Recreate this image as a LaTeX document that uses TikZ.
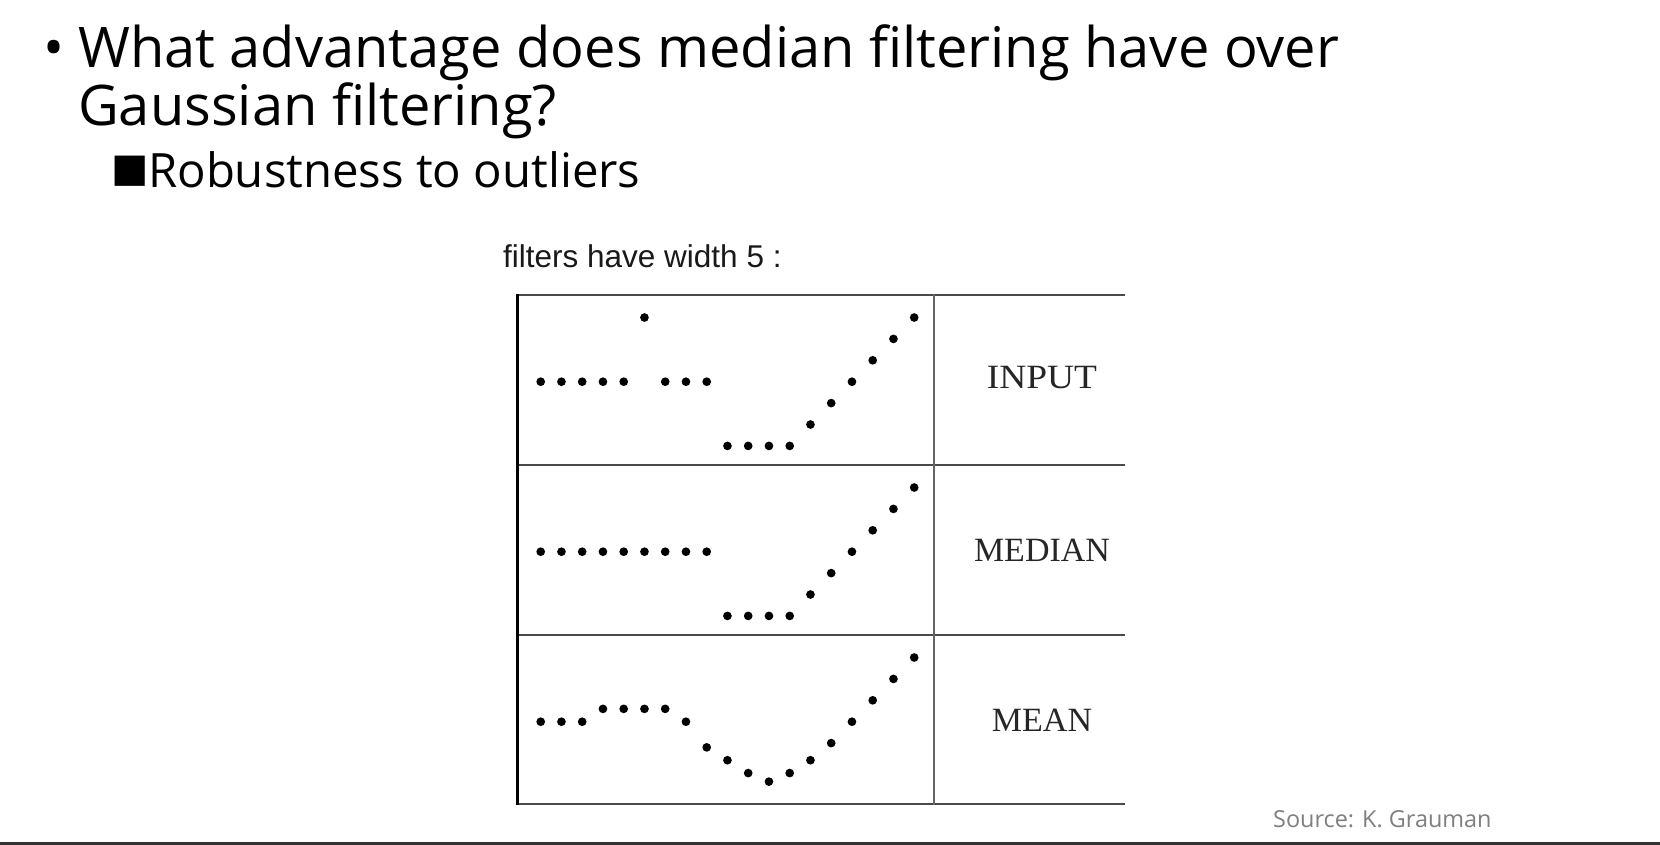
\documentclass[tikz,border=0pt]{standalone}
\usepackage{fontspec}
\newfontfamily\titlefont{Open Sans}
\newfontfamily\arialfont{Liberation Sans}
\newfontfamily\timesfont{Liberation Serif}
\newfontfamily\symfont{DejaVu Sans}
\definecolor{srcgray}{HTML}{7F7F7F}
\definecolor{linegray}{HTML}{4A4A4A}
\begin{document}
\begin{tikzpicture}[x=1pt,y=-1pt,
  dot/.style={circle,fill=black,inner sep=0pt,minimum size=8.7pt},
  tline/.style={draw=linegray,line width=2pt},
  lab/.style={font=\timesfont\fontsize{34}{40}\selectfont,inner sep=0pt,text=black!85},
  ttl/.style={font=\titlefont\fontsize{56}{60}\selectfont,inner sep=0pt,anchor=base west},
]
\useasboundingbox (0,0) rectangle (1660,844);
\fill[white] (0,0) rectangle (1660,844);

% title
\node[ttl] (bul) at (43,67) {•};
\node[ttl] (t1) at (78,67) {What advantage does median filtering have over};
\node[ttl] (t2) at (78,125) {Gaussian filtering?};
\node[font=\symfont\fontsize{39.5}{42}\selectfont,inner sep=0pt,anchor=base west] (sq) at (111,181) {■};
\node[font=\titlefont\fontsize{47.3}{52}\selectfont,inner sep=0pt,anchor=base west] (t3) at (148,187) {Robustness to outliers};

% caption
\node[font=\arialfont\fontsize{31.5}{34}\selectfont,inner sep=0pt,anchor=base west,text=black!90] (cap) at (503,267) {filters have width 5 :};

% table frame
\draw[tline] (517.7,295) -- (1125,295);
\draw[tline] (517.7,464.5) -- (1125,464.5);
\draw[tline] (517.7,635) -- (1125,635);
\draw[tline] (517.7,804.3) -- (1125,804.3);
\draw[draw=black,line width=2.5pt] (517.7,294) -- (517.7,805.3);
\draw[draw=linegray!85,line width=2.2pt] (934,294) -- (934,805.3);

% labels
\node[lab] (lin) at (1042,378) {\scalebox{1.1}[1]{INPUT}};
\node[lab] (lmed) at (1042,550) {MEDIAN};
\node[lab] (lmean) at (1042,720) {MEAN};

% dots
\foreach \v [count=\i from 0] in {3,3,3,3,3,6,3,3,3,0,0,0,0,1,2,3,4,5,6}
  \node[dot] (in\i) at ({540.7+20.75*\i},{445.9-21.4*\v}) {};
\foreach \v [count=\i from 0] in {3,3,3,3,3,3,3,3,3,0,0,0,0,1,2,3,4,5,6}
  \node[dot] (md\i) at ({540.7+20.75*\i},{615.9-21.4*\v}) {};
\foreach \v [count=\i from 0] in {3,3,3,3.6,3.6,3.6,3.6,3,1.8,1.2,0.6,0.2,0.6,1.2,2,3,4,5,6}
  \node[dot] (mn\i) at ({540.7+20.75*\i},{785.9-21.4*\v}) {};

% source
\node[font=\titlefont\fontsize{23.4}{26}\selectfont,inner sep=0pt,anchor=base west,text=srcgray] (src) at (1273,827) {Source: K. Grauman};

% bottom rule
\draw[draw=black!80,line width=3pt] (0,843) -- (1660,843);
\end{tikzpicture}
\end{document}
